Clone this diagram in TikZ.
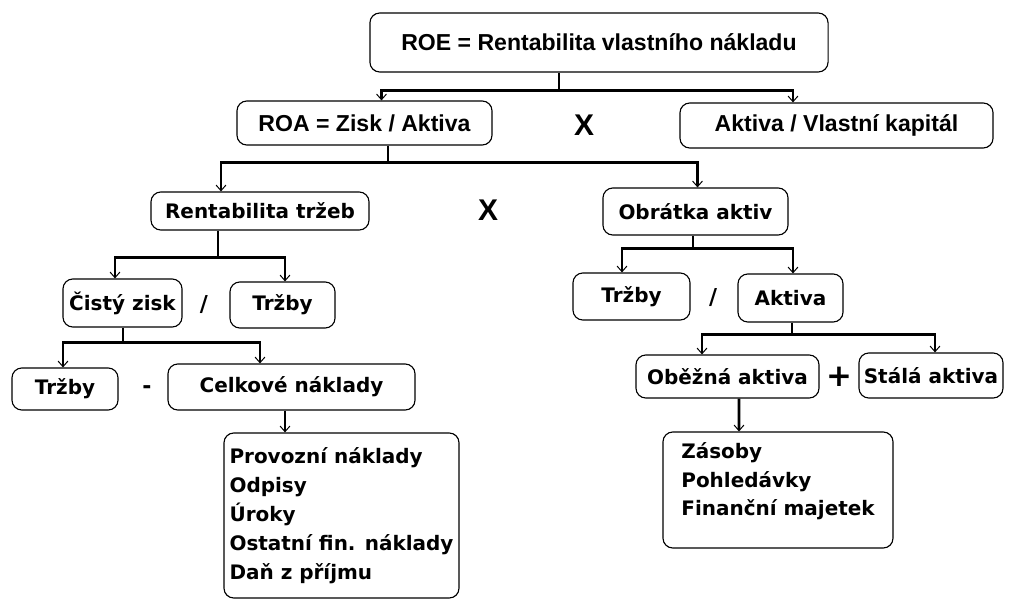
\documentclass[tikz,border=0pt]{standalone}
\usepackage{fontspec}
\setmainfont{DejaVu Sans}
\newfontfamily\arialfont{Liberation Sans}
\usetikzlibrary{arrows.meta,calc}

\tikzset{
  box/.style={draw, line width=0.8pt, rounded corners=7pt, inner sep=0pt,
    font=\bfseries\fontsize{14.2}{17}\selectfont},
  topbox/.style={box, font=\arialfont\bfseries\fontsize{16.4}{19}\selectfont},
  sign/.style={inner sep=0pt, font=\bfseries\fontsize{15.6}{18}\selectfont},
  link/.style={line width=2pt},
  arr/.style={link, -{Straight Barb[length=4pt,width=7pt,line width=0.7pt]}}
}

\begin{document}
\begin{tikzpicture}[x=0.025cm,y=-0.025cm]
\useasboundingbox (0,0) rectangle (1014,599);

\node[topbox, minimum width=11.45cm, minimum height=1.475cm] (roe) at (599,42.5) {ROE = Rentabilita vlastního nákladu};
\node[topbox, minimum width=6.375cm, minimum height=1.1cm] (roa) at (364.5,123) {ROA = Zisk / Aktiva};
\node[topbox, minimum width=7.825cm, minimum height=1.125cm] (akvk) at (836.5,125.5) {Aktiva / Vlastní kapitál};
\node[box, minimum width=5.45cm, minimum height=0.95cm] (rtrz) at (260,211) {Rentabilita tržeb};
\node[box, minimum width=4.625cm, minimum height=1.175cm] (obr) at (695.5,211.5) {Obrátka aktiv};
\node[box, minimum width=2.975cm, minimum height=1.2cm] (cz) at (122.5,303) {Čistý zisk};
\node[box, minimum width=2.625cm, minimum height=1.15cm] (trz1) at (282.5,305) {Tržby};
\node[box, minimum width=2.925cm, minimum height=1.175cm] (trz2) at (631.5,296.5) {Tržby};
\node[box, minimum width=2.625cm, minimum height=1.2cm] (akt) at (790.5,298) {Aktiva};
\node[box, minimum width=2.65cm, minimum height=1.05cm] (trz3) at (65,389) {Tržby};
\node[box, minimum width=6.175cm, minimum height=1.15cm] (celk) at (291.5,387) {Celkové náklady};
\node[box, minimum width=4.575cm, minimum height=1.075cm] (obez) at (727.5,376.5) {Oběžná aktiva};
\node[box, minimum width=3.6cm, minimum height=1.125cm] (stal) at (931,375.5) {Stálá aktiva};
\node[box, align=left, minimum width=5.875cm, minimum height=4.125cm,
  font=\bfseries\fontsize{14.2}{20.6}\selectfont] (prov) at (341.5,515.5)
  {Provozní náklady\\Odpisy\\Úroky\\Ostatní fin. náklady\\Daň z příjmu};
\node[box, align=left, minimum width=5.75cm, minimum height=2.9cm,
  font=\bfseries\fontsize{14.2}{20.3}\selectfont] (zas) at (778,490)
  {Zásoby\\Pohledávky\\Finanční majetek\rule[-15pt]{0pt}{15pt}};

\node[sign, font=\arialfont\bfseries\fontsize{21.3}{24}\selectfont] (x1) at (584,125) {X};
\node[sign, font=\arialfont\bfseries\fontsize{21.3}{24}\selectfont] (x2) at (488,210) {X};
\node[sign] (d1) at (204,305) {/};
\node[sign] (d2) at (713,298) {/};
\node[sign] (minus) at (147,390) {-};
\node[sign, font=\bfseries\fontsize{22}{24}\selectfont] (plus) at (839,377) {+};

\draw[link] ($(roe.south)+(-40,0)$) -- ++(0,18) coordinate (f1);
\draw[arr] (f1) -| ($(roa.north)+(17,0)$);
\draw[arr] (f1) -| ($(akvk.north)+(-43.5,0)$);

\draw[link] ($(roa.south)+(23.5,0)$) -- ++(0,17) coordinate (f2);
\draw[arr] (f2) -| ($(rtrz.north)+(-39,0)$);
\draw[arr] (f2) -| ($(obr.north)+(2,0)$);

\draw[link] ($(rtrz.south)+(-42,0)$) -- ++(0,27) coordinate (f3);
\draw[arr] (f3) -| ($(cz.north)+(-7.5,0)$);
\draw[arr] (f3) -| ($(trz1.north)+(2.5,0)$);

\draw[link] ($(obr.south)+(-2.5,0)$) -- ++(0,13) coordinate (f4);
\draw[arr] (f4) -| ($(trz2.north)+(-9.5,0)$);
\draw[arr] (f4) -| ($(akt.north)+(2.5,0)$);

\draw[link] ($(cz.south)+(0.5,0)$) -- ++(0,15) coordinate (f5);
\draw[arr] (f5) -| ($(trz3.north)+(-2,0)$);
\draw[arr] (f5) -| ($(celk.north)+(-31.5,0)$);

\draw[link] ($(akt.south)+(1.5,0)$) -- ++(0,12) coordinate (f6);
\draw[arr] (f6) -| ($(obez.north)+(-25.5,0)$);
\draw[arr] (f6) -| ($(stal.north)+(4,0)$);

\draw[arr] ($(celk.south)+(-6.5,0)$) -- ($(prov.north)+(-56.5,0)$);
\draw[arr] ($(obez.south)+(11.5,0)$) -- ($(zas.north)+(-39,0)$);
\end{tikzpicture}
\end{document}
